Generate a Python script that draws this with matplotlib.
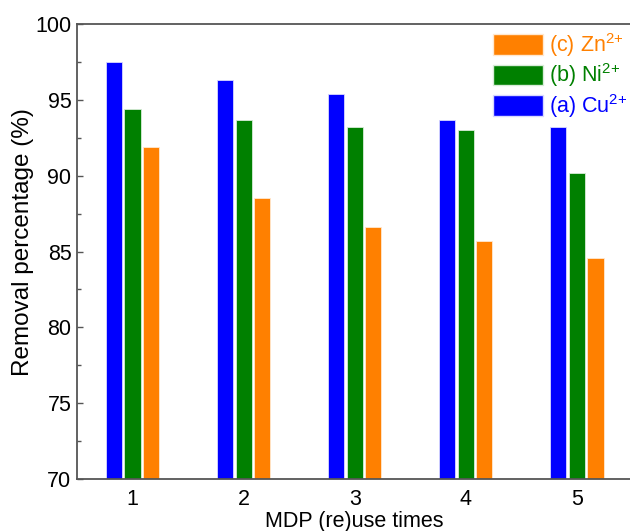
import numpy as np
import matplotlib
matplotlib.use("Agg")
import matplotlib.pyplot as plt
import matplotlib.patches as mpatches
from matplotlib.ticker import MultipleLocator

plt.rcParams["font.family"] = ["Liberation Sans", "DejaVu Sans"]
plt.rcParams["mathtext.fontset"] = "custom"
plt.rcParams["mathtext.rm"] = "Liberation Sans"
plt.rcParams["mathtext.it"] = "Liberation Sans:italic"
plt.rcParams["mathtext.bf"] = "Liberation Sans:bold"

# ── data ────────────────────────────────────────────────────────────────
reuse = [1, 2, 3, 4, 5]
cu = [97.5, 96.3, 95.4, 93.7, 93.2]
ni = [94.4, 93.7, 93.2, 93.0, 90.2]
zn = [91.9, 88.5, 86.6, 85.7, 84.6]

CU_CLR = "#0000ff"
NI_CLR = "#008000"
ZN_CLR = "#ff8000"
SPINE = "#555555"

fig = plt.figure(figsize=(6.3, 5.31), dpi=100)
ax = fig.add_axes([0.1222, 0.0979, 0.8817, 0.8569])

x = np.array(reuse, dtype=float)
w = 0.145
off = 0.167
ax.bar(x - off, cu, width=w, bottom=0, color=CU_CLR, edgecolor="#d8d8ff", linewidth=0.6)
ax.bar(x, ni, width=w, bottom=0, color=NI_CLR, edgecolor="#d8ecd8", linewidth=0.6)
ax.bar(x + off, zn, width=w, bottom=0, color=ZN_CLR, edgecolor="#ffe8d0", linewidth=0.6)

ax.set_xlim(0.5, 5.5)
ax.set_ylim(70, 100)
ax.set_xticks(reuse)
ax.yaxis.set_major_locator(MultipleLocator(5))
ax.yaxis.set_minor_locator(MultipleLocator(2.5))
ax.tick_params(axis="y", which="major", direction="in", length=4.5, width=1,
               color=SPINE, labelsize=15.5, pad=4)
ax.tick_params(axis="y", which="minor", direction="in", length=3, width=1,
               color=SPINE)
ax.tick_params(axis="x", which="both", length=0, labelsize=15.5, pad=7)
for s in ax.spines.values():
    s.set_color(SPINE)
    s.set_linewidth(1.3)

ax.set_xlabel("MDP (re)use times", fontsize=15.5, labelpad=1)
ax.set_ylabel("Removal percentage (%)", fontsize=17.5)
ax.yaxis.set_label_coords(-0.078, 0.52)

# legend (reversed order, coloured text, no frame)
handles = [
    mpatches.Patch(facecolor=ZN_CLR, edgecolor="#ffe8d0", label=r"(c) Zn$^{2{+}}$"),
    mpatches.Patch(facecolor=NI_CLR, edgecolor="#d8ecd8", label=r"(b) Ni$^{2{+}}$"),
    mpatches.Patch(facecolor=CU_CLR, edgecolor="#d8d8ff", label=r"(a) Cu$^{2{+}}$"),
]
leg = fig.legend(handles=handles, loc="upper left", bbox_to_anchor=(0.783, 0.942),
                 frameon=False, fontsize=15.5, handlelength=2.3, handleheight=1.1,
                 handletextpad=0.3, labelspacing=0.12, borderaxespad=0,
                 borderpad=0)
for t, c in zip(leg.get_texts(), [ZN_CLR, NI_CLR, CU_CLR]):
    t.set_color(c)

fig.savefig("out.png", dpi=100)
